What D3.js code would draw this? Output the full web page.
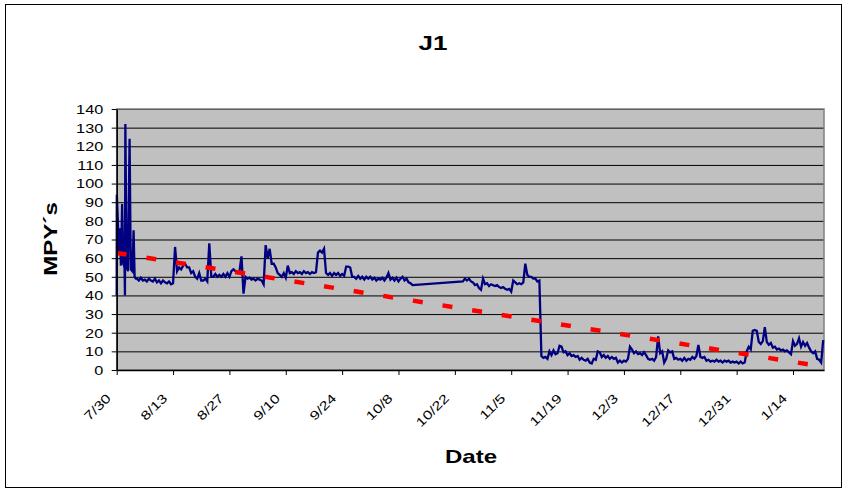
<!DOCTYPE html>
<html>
<head>
<meta charset="utf-8">
<script src="https://cdn.jsdelivr.net/npm/d3@7"></script>
<style>
  body { margin: 0; background: #fff; }
  text { font-family: "Liberation Sans", Arial, sans-serif; }
</style>
</head>
<body>
<svg id="chart" width="847" height="492"></svg>
<script>
// Corrosion rate readings (mils per year), days counted from 7/30.

// First days: dense start-up readings with large swings.
const startupDays = [0, 0.03, 0.3, 0.55, 0.8, 1.05, 1.35, 1.65, 1.95, 2.05, 2.15, 2.45, 2.8, 3.2, 3.5, 3.9, 4.2, 4.45, 4.75];
const startupMpy  = [40, 94, 79, 62, 76, 56, 89, 57, 55, 40, 132, 56, 53, 124, 54, 53, 75, 50, 49];

// Half-day readings, 8/4 through 10/11.
const augOctStart = 5;
const augOctMpy = [
  49, 48,  49.5, 48,  48.5, 47.5,  49, 48,  47.5, 49,
  47, 48,  46.5, 48,  47, 46.5,  47.5, 46,  46.5, 66,
  53, 55,  54, 56,  57, 55,  55, 52,  53, 50,
  49, 52,  48, 48,  49, 47.5,  68, 50,  50, 51.5,
  50, 51,  50, 51.5,  50, 52,  50, 53,  54, 53,
  52, 53,  61, 41,  50, 49,  49.5, 48.5,  49, 48,
  49, 48.5,  48, 46,  67, 60,  65, 57,  57, 55,
  52, 51,  50, 52,  49.5, 56,  52, 52.5,  51.5, 53,
  52, 52.5,  51.5, 53,  52, 52.5,  51.5, 52.5,  52, 52.5,
  63, 64,  63, 65,  52, 51,  52, 50.5,  52, 51,
  52, 50.5,  51.5, 50.5,  55.5, 55.5,  55, 50,  50, 49,
  50.5, 49,  50, 48.5,  50, 49,  50, 48.5,  49.5, 48,
  49, 48.5,  49.5, 48,  49.5, 52,  48.5, 49.5,  48, 49.5,
  47.5, 49,  50, 48,  49, 47,  46.5, 45.5
];

// Half-day readings, 10/24 through 1/21.
const octJanStart = 86;
const octJanMpy = [
  47.5, 49,  48, 49,  47.5, 47,  45.5, 46,  44, 43,
  49, 46,  46.5, 45,  46, 45.5,  45, 45.5,  44.5, 44,
  44.5, 43.5,  43, 43.5,  42, 48,  47, 46,  46.5, 46,
  47, 57,  51, 50,  50, 49,  49, 47.5,  48, 7.5,
  6.5, 7,  6, 10,  8, 10.5,  8.5, 9,  13, 12.5,
  9.5, 10,  8, 9,  7.5, 8,  7, 7.5,  5.5, 6.5,
  5.5, 5,  6, 4,  3.5, 6,  5.5, 10,  9.5, 7,
  8, 6.5,  7.5, 6,  7, 6,  6.5, 4,  5, 4,
  5, 4.5,  6, 12.5,  11, 9,  10, 8.5,  9, 8,
  9.5, 8,  6, 5.5,  6, 5,  7, 18,  9, 10,
  4, 6,  10.5, 9.5,  10, 6,  6.5, 5.5,  6, 5,
  6.5, 5,  6, 5.5,  7, 6,  7.5, 13.5,  7, 6.5,
  7, 5,  5.5, 4.5,  5, 4.5,  5.5, 4.5,  5, 4,
  5, 4.5,  5, 4,  4.5, 4,  4.5, 3.5,  4.5, 3.5,
  4, 10,  12.5, 11,  21, 21.5,  21, 15,  14, 15.5,
  23, 15,  13.5, 14.5,  12, 12.5,  11, 11.5,  10.5, 11,
  10, 10.5,  9.5, 8.5,  15.5, 13,  14, 17,  12.5, 15,
  13, 14.5,  12, 10,  9, 10,  6, 5.5,  4, 16
];
const stepDays = 0.5;

// Linear trend of the readings.
const trendDays = [0, 175.7];
const trendMpy  = [62.8, 1.7];

// Axis ticks.
const dateTickDays = [0, 14, 28, 42, 56, 70, 84, 98, 112, 126, 140, 154, 168];
const dateLabels = ["7/30", "8/13", "8/27", "9/10", "9/24", "10/8", "10/22", "11/5", "11/19", "12/3", "12/17", "12/31", "1/14"];
const mpyTicks = [0, 10, 20, 30, 40, 50, 60, 70, 80, 90, 100, 110, 120, 130, 140];

// ---- assemble the series ----
const readings = [];
startupDays.forEach((d, i) => readings.push([d, startupMpy[i]]));
augOctMpy.forEach((v, i) => readings.push([augOctStart + i * stepDays, v]));
octJanMpy.forEach((v, i) => readings.push([octJanStart + i * stepDays, v]));
const trend = trendDays.map((d, i) => [d, trendMpy[i]]);

// ---- layout ----
const svg = d3.select("#chart");
const plot = { left: 116.7, right: 824, top: 109, bottom: 370 };
const x = d3.scaleLinear().domain([0, 175.7]).range([plot.left, plot.right]);
const y = d3.scaleLinear().domain([0, 140]).range([plot.bottom, plot.top]);
const TEXT_STRETCH = 1.3;

function widen(sel) {
  sel.each(function () {
    const w = this.getComputedTextLength();
    d3.select(this).attr("textLength", w * TEXT_STRETCH).attr("lengthAdjust", "spacingAndGlyphs");
  });
}

// chart frame
svg.append("rect").attr("x", 5.5).attr("y", 4.5).attr("width", 836).attr("height", 483)
  .attr("fill", "#fff").attr("stroke", "#000").attr("stroke-width", 1);

// plot background
svg.append("rect")
  .attr("x", plot.left).attr("y", plot.top)
  .attr("width", plot.right - plot.left).attr("height", plot.bottom - plot.top)
  .attr("fill", "#C0C0C0");

// horizontal gridlines
const grid = svg.append("g").attr("transform", `translate(${plot.left},0)`)
  .call(d3.axisLeft(y).tickValues(mpyTicks.slice(1)).tickSize(-(plot.right - plot.left)).tickFormat(""));
grid.select(".domain").remove();
grid.selectAll("line").attr("stroke", "#000").attr("stroke-width", 1);

// plot border
svg.append("rect")
  .attr("x", plot.left).attr("y", plot.top)
  .attr("width", plot.right - plot.left).attr("height", plot.bottom - plot.top)
  .attr("fill", "none").attr("stroke", "#808080").attr("stroke-width", 1.5);

svg.append("clipPath").attr("id", "plotClip").append("rect")
  .attr("x", plot.left).attr("y", plot.top)
  .attr("width", plot.right - plot.left).attr("height", plot.bottom - plot.top);

const line = d3.line().x(d => x(d[0])).y(d => y(d[1]));

// readings
svg.append("path").datum(readings)
  .attr("d", line)
  .attr("fill", "none").attr("stroke", "#000080").attr("stroke-width", 2.3)
  .attr("stroke-linejoin", "miter");

// trend
svg.append("path").datum(trend)
  .attr("clip-path", "url(#plotClip)")
  .attr("d", line)
  .attr("fill", "none").attr("stroke", "#FF0000").attr("stroke-width", 4.5)
  .attr("stroke-dasharray", "10,20");

// y axis
const yAxis = svg.append("g").attr("transform", `translate(${plot.left},0)`)
  .call(d3.axisLeft(y).tickValues(mpyTicks).tickSize(5).tickSizeOuter(0));
yAxis.select(".domain").attr("stroke", "#000").attr("stroke-width", 1.5);
yAxis.selectAll(".tick line").attr("stroke", "#000");
yAxis.selectAll(".tick text")
  .attr("x", -13.5).attr("dy", "0.35em")
  .attr("font-size", 12.5).attr("fill", "#000")
  .style("font-family", '"Liberation Sans", Arial, sans-serif')
  .call(widen);

// x axis
const xAxis = svg.append("g").attr("transform", `translate(0,${plot.bottom})`)
  .call(d3.axisBottom(x).tickValues(dateTickDays).tickSize(5).tickSizeOuter(0)
    .tickFormat((d, i) => dateLabels[i]));
xAxis.select(".domain").attr("stroke", "#000").attr("stroke-width", 1.5);
xAxis.selectAll(".tick line").attr("stroke", "#000");
xAxis.selectAll(".tick text")
  .attr("x", 0).attr("y", 0).attr("dy", 0)
  .attr("text-anchor", "end")
  .attr("transform", "translate(-5.5,29) rotate(-45)")
  .attr("font-size", 12.5).attr("fill", "#000")
  .style("font-family", '"Liberation Sans", Arial, sans-serif')
  .call(widen);

// titles
svg.append("text").attr("x", 433).attr("y", 50)
  .attr("text-anchor", "middle").attr("font-size", 20).attr("font-weight", "bold")
  .text("J1").call(widen);

svg.append("text").attr("x", 471).attr("y", 463)
  .attr("text-anchor", "middle").attr("font-size", 18.5).attr("font-weight", "bold")
  .text("Date").call(widen);

svg.append("text")
  .attr("transform", "translate(57,239) rotate(-90)")
  .attr("text-anchor", "middle").attr("font-size", 18.5).attr("font-weight", "bold")
  .text("MPY´s").call(widen);
</script>
</body>
</html>
